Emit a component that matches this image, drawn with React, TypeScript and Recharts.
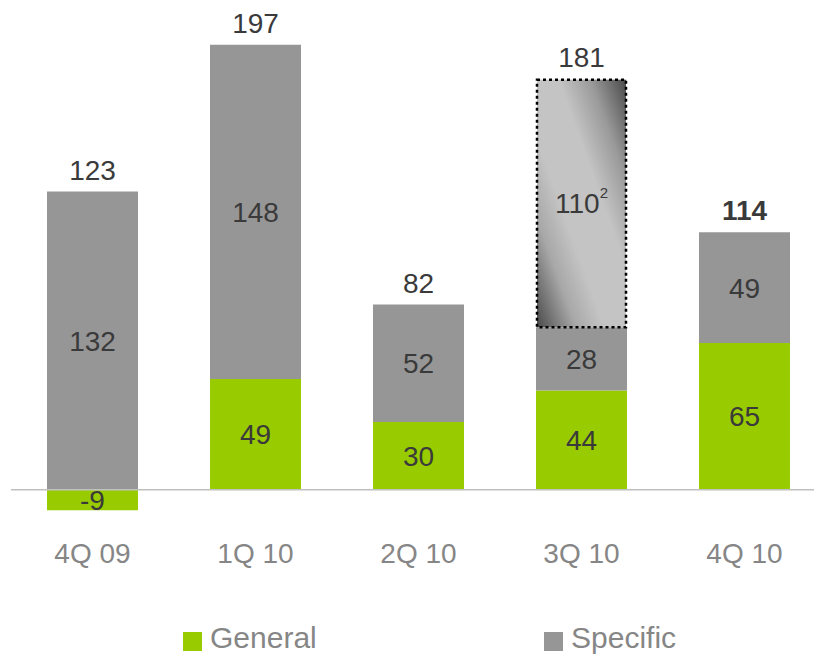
import React from 'react';
import { BarChart, Bar, XAxis, YAxis, ReferenceLine, LabelList, Legend } from 'recharts';

const categories = ['4Q 09', '1Q 10', '2Q 10', '3Q 10', '4Q 10'];
const general = [-9, 49, 30, 44, 65];
const specific = [132, 148, 52, 28, 49];
const extra = [0, 0, 0, 110, 0];
const totals = [123, 197, 82, 181, 114];
const boldTotal = [false, false, false, false, true];
const extraNote = ['', '', '', '2', ''];

const data = categories.map((c, i) => ({
  name: c,
  general: general[i],
  specific: specific[i],
  extra: extra[i],
  total: totals[i],
}));

const FONT = '"Liberation Sans", Arial, sans-serif';
const GREEN = '#99cc00';
const GRAY = '#969696';
const VALUE_COLOR = '#3a3a3a';
const AXIS_COLOR = '#868686';

const ExtraShape = (props: any) => {
  const { x, y, width, height } = props;
  if (!height || height <= 0) return <g />;
  return (
    <rect
      x={x + 1}
      y={y + 1}
      width={width - 2}
      height={height - 1}
      fill="url(#gradExtra)"
      stroke="#000"
      strokeWidth={2.5}
      strokeDasharray="3 3"
    />
  );
};

const renderExtraLabel = (p: any) => {
  const { x, y, width, height, index, value } = p;
  if (!value) return null;
  const cx = x + width / 2;
  const cy = y + height / 2;
  return (
    <text x={cx} y={cy + 10} textAnchor="middle" fill={VALUE_COLOR} fontSize={28} fontFamily={FONT}>
      {value}
      <tspan fontSize={15} dy={-15}>{extraNote[index]}</tspan>
    </text>
  );
};

const renderTotal = (p: any) => {
  const { x, y, width, index, value } = p;
  return (
    <text
      x={x + width / 2}
      y={y - 12}
      textAnchor="middle"
      fill={VALUE_COLOR}
      fontSize={28}
      fontWeight={boldTotal[index] ? 'bold' : 'normal'}
      fontFamily={FONT}
    >
      {value}
    </text>
  );
};

const renderLegend = () => (
  <div style={{ position: 'relative', width: 830, height: 40, fontFamily: FONT }}>
    {[
      { label: 'General', color: GREEN, left: 183 },
      { label: 'Specific', color: GRAY, left: 544 },
    ].map((it) => (
      <div
        key={it.label}
        style={{ position: 'absolute', left: it.left, top: 0, display: 'flex', alignItems: 'center', height: 40 }}
      >
        <div style={{ width: 19, height: 19, background: it.color, marginRight: 8, marginTop: 6 }} />
        <span style={{ fontSize: 30, color: AXIS_COLOR, lineHeight: '40px' }}>{it.label}</span>
      </div>
    ))}
  </div>
);

export default function App() {
  return (
    <div style={{ position: 'absolute', left: 0, top: 0, width: 814, height: 657, overflow: 'hidden', background: '#fff', fontFamily: FONT }}>
      <BarChart
        width={830}
        height={657}
        data={data}
        stackOffset="sign"
        margin={{ top: 38, right: 4, left: 11, bottom: 42 }}
        barSize={91}
      >
        <defs>
          <linearGradient id="gradExtra" x1="0" y1="1" x2="1" y2="0">
            <stop offset="0" stopColor="#4a4a4a" />
            <stop offset="0.22" stopColor="#a8a8a8" />
            <stop offset="0.38" stopColor="#c4c4c4" />
            <stop offset="0.62" stopColor="#c4c4c4" />
            <stop offset="0.8" stopColor="#9a9a9a" />
            <stop offset="1" stopColor="#4a4a4a" />
          </linearGradient>
        </defs>
        <XAxis
          dataKey="name"
          axisLine={false}
          tickLine={false}
          tickSize={0}
          tickMargin={8}
          height={40}
          interval={0}
          tick={{ fill: AXIS_COLOR, fontSize: 28, fontFamily: FONT }}
        />
        <YAxis hide domain={[-20, 200]} allowDataOverflow />
        <Bar dataKey="general" stackId="a" fill={GREEN} isAnimationActive={false}>
          <LabelList dataKey="general" position="center" fill={VALUE_COLOR} fontSize={28} fontFamily={FONT} />
        </Bar>
        <Bar dataKey="specific" stackId="a" fill={GRAY} isAnimationActive={false}>
          <LabelList dataKey="specific" position="center" fill={VALUE_COLOR} fontSize={28} fontFamily={FONT} />
        </Bar>
        <Bar dataKey="extra" stackId="a" fill="url(#gradExtra)" shape={ExtraShape} isAnimationActive={false}>
          <LabelList dataKey="extra" content={renderExtraLabel} />
          <LabelList dataKey="total" content={renderTotal} />
        </Bar>
        <ReferenceLine y={0} stroke="#c0c0c0" strokeWidth={1.5} />
        <Legend content={renderLegend} wrapperStyle={{ top: 618, left: 0, bottom: 'auto' }} />
      </BarChart>
    </div>
  );
}
